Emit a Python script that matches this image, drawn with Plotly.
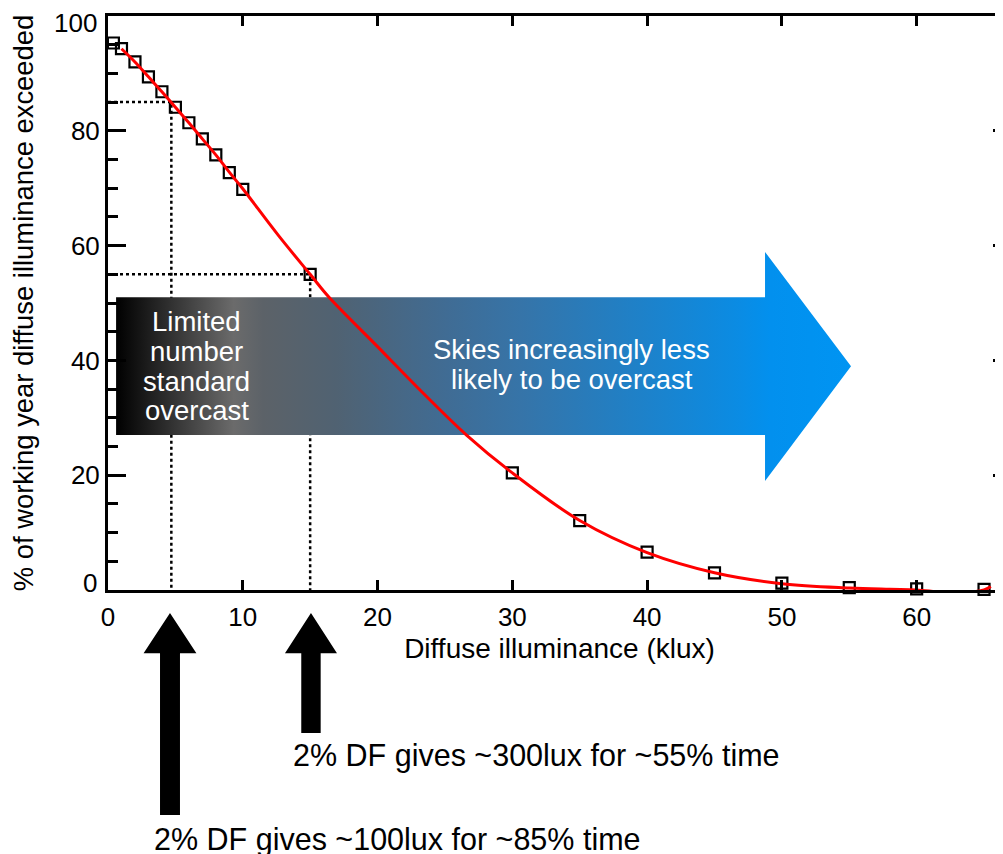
import plotly.graph_objects as go

# ---------------- data ----------------
obs_x = [0.4, 1, 2, 3, 4, 5, 6, 7, 8, 9, 10, 15, 30, 35, 40, 45, 50, 55, 60, 65]
obs_y = [95.3, 94.3, 92.0, 89.4, 86.8, 84.1, 81.4, 78.6, 75.8, 72.7, 69.8, 55.0,
         20.4, 12.1, 6.6, 3.0, 1.2, 0.4, 0.2, 0.1]

fit_x = [1, 2, 3, 4, 5, 6, 7, 8, 9, 10, 12.7, 15, 16.4, 20, 23, 26.6, 30, 35, 40,
         45, 50, 55, 58, 60, 62, 64, 65, 65.5]
fit_y = [94.3, 92.0, 89.4, 86.8, 84.1, 81.4, 78.6, 75.8, 72.8, 69.9, 61.6, 55.0, 51.0,
         42.4, 35.2, 27.0, 20.4, 12.1, 6.5, 3.0, 1.1, 0.35, 0.12, 0.0, -0.4, -0.35, 0.0, 0.6]

# reference readings (illuminance klux, % exceeded)
ref_x = [4.7, 15]
ref_y = [85, 55]

x_ticks = [0, 10, 20, 30, 40, 50, 60]
y_ticks = [0, 20, 40, 60, 80, 100]

XMAX = 67.0
YMAX = 100.0

FONT = "Liberation Sans, Arial, Helvetica, sans-serif"

fig = go.Figure()

# dotted reference lines
for rx, ry in zip(ref_x, ref_y):
    fig.add_trace(go.Scatter(
        x=[0, rx, rx], y=[ry, ry, 0], mode="lines",
        line=dict(color="black", width=2.5, dash="dot"),
        hoverinfo="skip", showlegend=False))

# big gradient arrow (in axis units)
ax_body_x0, ax_body_x1, ax_tip = 0.6, 48.75, 55.13
ay_b0, ay_b1, ay_h0, ay_h1, ay_tip = 27.0, 51.0, 19.0, 58.9, 39.0
fig.add_trace(go.Scatter(
    x=[ax_body_x0, ax_body_x1, ax_body_x1, ax_tip, ax_body_x1, ax_body_x1, ax_body_x0, ax_body_x0],
    y=[ay_b1, ay_b1, ay_h1, ay_tip, ay_h0, ay_b0, ay_b0, ay_b1],
    mode="lines", line=dict(width=0, color="rgba(0,0,0,0)"),
    fill="toself",
    fillgradient=dict(
        type="horizontal", start=ax_body_x0, stop=ax_tip,
        colorscale=[
            [0.0, "#000000"], [0.07, "#2e2e2e"], [0.16, "#6b6b6b"],
            [0.2, "#5c6268"], [0.3, "#506272"], [0.45, "#406c94"],
            [0.55, "#3674a8"], [0.7, "#2080c6"], [0.85, "#0a8ce4"],
            [0.89, "#0290ee"], [1.0, "#0094f2"]]),
    hoverinfo="skip", showlegend=False))

# observed points
fig.add_trace(go.Scatter(
    x=obs_x, y=obs_y, mode="markers",
    marker=dict(symbol="square-open", size=11, color="black", line=dict(width=2.2, color="black")),
    showlegend=False, cliponaxis=False))

# fitted curve
fig.add_trace(go.Scatter(
    x=fit_x, y=fit_y, mode="lines", line=dict(color="#ff0000", width=3, shape="spline"),
    showlegend=False))


def px(x):
    return x / XMAX


def py(y):
    return y / YMAX


AF = 27.5
annos = []
for txt, yy in zip(["Limited", "number", "standard", "overcast"], [46.7, 41.55, 36.4, 31.2]):
    annos.append(dict(x=6.6, y=yy, xref="x", yref="y", text=txt,
                      xanchor="center", yanchor="middle",
                      font=dict(size=AF, color="white", family=FONT), showarrow=False))
for txt, yy in zip(["Skies increasingly less", "likely to be overcast"], [41.9, 36.6]):
    annos.append(dict(x=34.4, y=yy, xref="x", yref="y", text=txt,
                      xanchor="center", yanchor="middle",
                      font=dict(size=AF, color="white", family=FONT), showarrow=False))
annos += [
    dict(x=px(31.8), y=py(-28.9), xref="paper", yref="paper",
         xanchor="center", yanchor="middle",
         text="2% DF gives ~300lux for ~55% time",
         font=dict(size=30.5, color="black", family=FONT), showarrow=False),
    dict(x=px(21.5), y=py(-43.4), xref="paper", yref="paper",
         xanchor="center", yanchor="middle",
         text="2% DF gives ~100lux for ~85% time",
         font=dict(size=30.5, color="black", family=FONT), showarrow=False),
]

# end-of-axis y labels nudged inward (as in the original)
for val, shift in [(y_ticks[0], 7), (y_ticks[-1], -7)]:
    annos.append(dict(x=0, y=py(val), xref="paper", yref="paper", text=str(val),
                      xanchor="right", yanchor="middle", xshift=-9, yshift=shift,
                      font=dict(size=26, color="black", family=FONT), showarrow=False))

y_ticktext = [str(v) if y_ticks[0] < v < y_ticks[-1] else "" for v in y_ticks]


def block_arrow(cx, tip, base, bottom, hw, sw):
    pts = [(cx, tip), (cx + hw, base), (cx + sw, base), (cx + sw, bottom),
           (cx - sw, bottom), (cx - sw, base), (cx - hw, base)]
    return "M " + " L ".join(f"{px(a):.5f},{py(b):.5f}" for a, b in pts) + " Z"


shapes = [
    dict(type="path", xref="paper", yref="paper",
         path=block_arrow(4.6, -4.0, -11.0, -39.2, 1.96, 0.74),
         fillcolor="black", line=dict(width=0)),
    dict(type="path", xref="paper", yref="paper",
         path=block_arrow(15.06, -4.0, -11.0, -24.9, 1.93, 0.72),
         fillcolor="black", line=dict(width=0)),
]

fig.update_layout(
    width=1003, height=854,
    margin=dict(l=100, r=0, t=8, b=272, autoexpand=False),
    paper_bgcolor="white", plot_bgcolor="white",
    font=dict(family=FONT, color="black", size=26),
    showlegend=False,
    annotations=annos, shapes=shapes,
    xaxis=dict(range=[0, XMAX], tickvals=x_ticks, ticks="inside", ticklen=10, tickwidth=3,
               tickcolor="black", automargin=False,
               showline=True, linewidth=3, linecolor="black", mirror="ticks",
               showgrid=False, zeroline=False, tickfont=dict(size=26),
               ticklabelstandoff=2, ticklabeloverflow="allow",
               title=dict(text="Diffuse illuminance (klux)", font=dict(size=28), standoff=8)),
    yaxis=dict(range=[0, YMAX], tickvals=y_ticks, ticktext=y_ticktext,
               ticks="inside", ticklen=18, tickwidth=3,
               tickcolor="black", automargin=False,
               showline=True, linewidth=3, linecolor="black", mirror="ticks",
               minor=dict(ticks="inside", ticklen=10, tickwidth=3, dtick=5, tickcolor="black"),
               showgrid=False, zeroline=False, tickfont=dict(size=26),
               ticklabelstandoff=0, ticklabeloverflow="allow",
               title=dict(text="% of working year diffuse illuminance exceeded",
                          font=dict(size=27.4), standoff=30)),
)

fig.write_html("out.html")
